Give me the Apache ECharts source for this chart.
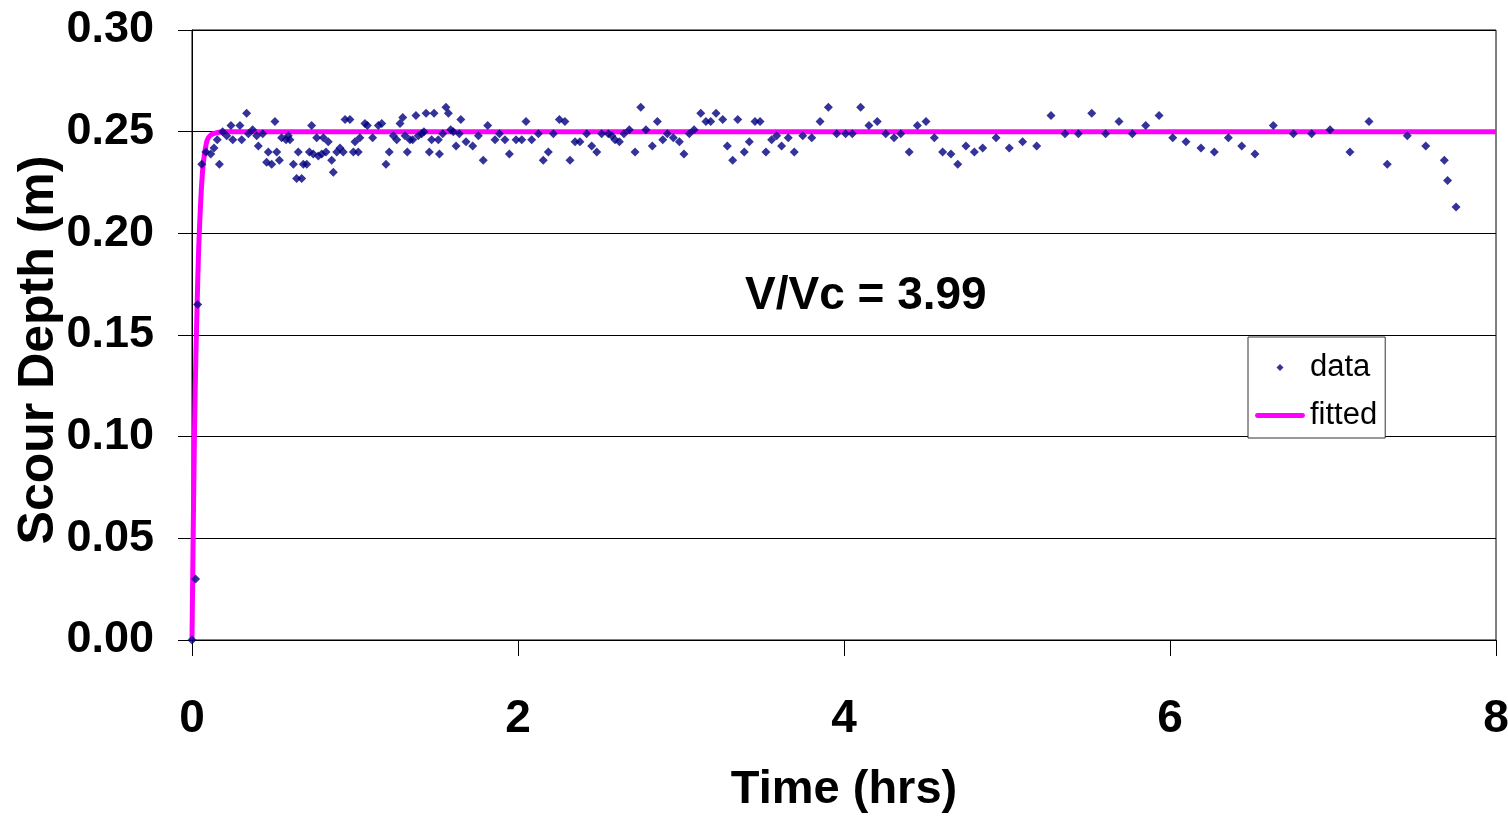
<!DOCTYPE html>
<html>
<head>
<meta charset="utf-8">
<script src="https://cdn.jsdelivr.net/npm/echarts@6/dist/echarts.min.js"></script>
<style>html,body{margin:0;padding:0;background:#fff}#c{width:1508px;height:820px}</style>
</head>
<body>
<div id="c"></div>
<script>
const dataTime = [0,0.022,0.035,0.06,0.086,0.115,0.135,0.155,0.168,0.188,0.213,0.239,0.25,0.294,0.305,0.335,0.346,0.372,0.397,0.407,0.434,0.458,0.468,0.489,0.509,0.52,0.536,0.55,0.577,0.591,0.601,0.622,0.642,0.652,0.673,0.683,0.704,0.72,0.734,0.744,0.765,0.775,0.796,0.806,0.822,0.836,0.857,0.867,0.888,0.908,0.928,0.939,0.969,0.99,1.0,1.02,1.03,1.061,1.076,1.108,1.143,1.164,1.19,1.21,1.235,1.256,1.276,1.293,1.307,1.321,1.337,1.354,1.374,1.388,1.409,1.423,1.436,1.456,1.47,1.485,1.511,1.518,1.538,1.558,1.573,1.587,1.603,1.62,1.64,1.649,1.681,1.722,1.757,1.787,1.814,1.859,1.886,1.92,1.947,1.988,2.023,2.049,2.084,2.125,2.155,2.186,2.217,2.254,2.288,2.319,2.35,2.38,2.421,2.452,2.483,2.513,2.554,2.575,2.595,2.622,2.65,2.683,2.718,2.753,2.785,2.824,2.855,2.888,2.916,2.953,2.99,3.018,3.051,3.08,3.121,3.153,3.182,3.215,3.256,3.284,3.317,3.348,3.388,3.419,3.454,3.485,3.521,3.556,3.587,3.617,3.658,3.695,3.747,3.802,3.853,3.904,3.955,4.01,4.051,4.102,4.153,4.204,4.256,4.307,4.348,4.40,4.45,4.503,4.554,4.605,4.656,4.698,4.748,4.80,4.851,4.933,5.014,5.096,5.182,5.27,5.356,5.438,5.52,5.605,5.687,5.769,5.851,5.933,6.017,6.098,6.19,6.272,6.358,6.44,6.521,6.634,6.757,6.869,6.982,7.104,7.221,7.333,7.456,7.569,7.683,7.703,7.755];
const dataDepth = [0,0.030,0.165,0.234,0.240,0.239,0.242,0.246,0.234,0.250,0.248,0.253,0.246,0.253,0.246,0.259,0.249,0.251,0.248,0.243,0.249,0.235,0.240,0.234,0.255,0.240,0.236,0.247,0.246,0.248,0.246,0.234,0.227,0.240,0.227,0.234,0.234,0.240,0.253,0.239,0.247,0.238,0.239,0.247,0.240,0.245,0.236,0.230,0.240,0.242,0.240,0.256,0.256,0.240,0.245,0.240,0.247,0.254,0.253,0.247,0.253,0.254,0.234,0.240,0.248,0.246,0.254,0.257,0.248,0.240,0.246,0.246,0.258,0.248,0.249,0.250,0.259,0.240,0.246,0.259,0.246,0.239,0.249,0.262,0.259,0.251,0.250,0.243,0.249,0.256,0.245,0.243,0.248,0.236,0.253,0.246,0.249,0.246,0.239,0.246,0.246,0.255,0.246,0.249,0.236,0.240,0.249,0.256,0.255,0.236,0.245,0.245,0.249,0.243,0.240,0.249,0.249,0.248,0.246,0.245,0.249,0.251,0.240,0.262,0.251,0.243,0.255,0.246,0.249,0.247,0.245,0.239,0.249,0.251,0.259,0.255,0.255,0.259,0.256,0.243,0.236,0.256,0.240,0.245,0.255,0.255,0.240,0.246,0.248,0.243,0.247,0.240,0.248,0.247,0.255,0.262,0.249,0.249,0.249,0.262,0.253,0.255,0.249,0.247,0.249,0.240,0.253,0.255,0.247,0.240,0.239,0.234,0.243,0.240,0.242,0.247,0.242,0.245,0.243,0.258,0.249,0.249,0.259,0.249,0.255,0.249,0.253,0.258,0.247,0.245,0.242,0.240,0.247,0.243,0.239,0.253,0.249,0.249,0.251,0.240,0.255,0.234,0.248,0.243,0.236,0.226,0.213];
const fittedTime = [0,0.01,0.02,0.03,0.04,0.05,0.06,0.07,0.085,0.1,0.13,0.2,8];
const fittedDepth = [0,0.07,0.125,0.16,0.19,0.21,0.225,0.235,0.243,0.247,0.249,0.25,0.25];
const xTicks = [0,2,4,6,8];
const yTicks = [0,0.05,0.10,0.15,0.20,0.25,0.30];
const annotation = 'V/Vc = 3.99';

const FN = "'Liberation Sans',Arial,sans-serif";
const chart = echarts.init(document.getElementById('c'), null, {renderer:'canvas'});
chart.setOption({
  animation:false,
  backgroundColor:'#fff',
  grid:{left:192,right:12,top:30,bottom:180,containLabel:false,outerBoundsMode:'none',
    show:true,borderColor:'#000',borderWidth:1,backgroundColor:'transparent'},
  xAxis:{type:'value',min:xTicks[0],max:xTicks[xTicks.length-1],interval:2,
    name:'Time (hrs)',nameLocation:'middle',nameGap:127,nameMoveOverlap:false,
    nameTextStyle:{fontFamily:FN,fontWeight:'bold',fontSize:47,color:'#000'},
    axisLine:{show:true,lineStyle:{color:'#000',width:1}},
    axisTick:{show:true,length:16,lineStyle:{color:'#000'}},
    axisLabel:{margin:56,fontFamily:FN,fontWeight:'bold',fontSize:46,color:'#000'},
    splitLine:{show:false}},
  yAxis:{type:'value',min:yTicks[0],max:yTicks[yTicks.length-1],interval:0.05,
    name:'Scour Depth (m)',nameLocation:'middle',nameGap:128,nameRotate:90,nameMoveOverlap:false,
    nameTextStyle:{fontFamily:FN,fontWeight:'bold',fontSize:50,color:'#000',padding:[0,30,0,0]},
    axisLine:{show:true,lineStyle:{color:'#000',width:1}},
    axisTick:{show:true,length:14,inside:false,lineStyle:{color:'#000'}},
    axisLabel:{margin:38,fontFamily:FN,fontWeight:'bold',fontSize:45,color:'#000',
      formatter:v=>v.toFixed(2)},
    splitLine:{show:true,lineStyle:{color:'#000',width:1}}},
  legend:{left:1248,top:337,orient:'vertical',itemWidth:50,itemHeight:10,itemGap:17,
    padding:[15,8,7,7],borderColor:'#333',borderWidth:1,backgroundColor:'#fff',
    textStyle:{fontFamily:FN,fontSize:31,color:'#000'},
    data:[{name:'data',icon:'path://M0,0M50,10M25,1.5L28.5,5L25,8.5L21.5,5Z'},
          {name:'fitted',icon:'path://M0,0M50,10M2,2.5L48,2.5A2.5,2.5,0,0,1,48,7.5L2,7.5A2.5,2.5,0,0,1,2,2.5Z'}]},
  graphic:[{type:'text',left:745,top:273,style:{text:annotation,fontFamily:FN,fontWeight:'bold',fontSize:46,fill:'#000'}}],
  series:[
    {name:'fitted',type:'line',data:fittedTime.map((t,i)=>[t,fittedDepth[i]]),smooth:0.4,symbol:'none',showSymbol:false,
      lineStyle:{color:'#FF00FF',width:5},itemStyle:{color:'#FF00FF'},z:2},
    {name:'data',type:'scatter',data:dataTime.map((t,i)=>[t,dataDepth[i]]),symbol:'diamond',symbolSize:9,
      itemStyle:{color:'#000080'},z:3}
  ]
});
</script>
</body>
</html>
